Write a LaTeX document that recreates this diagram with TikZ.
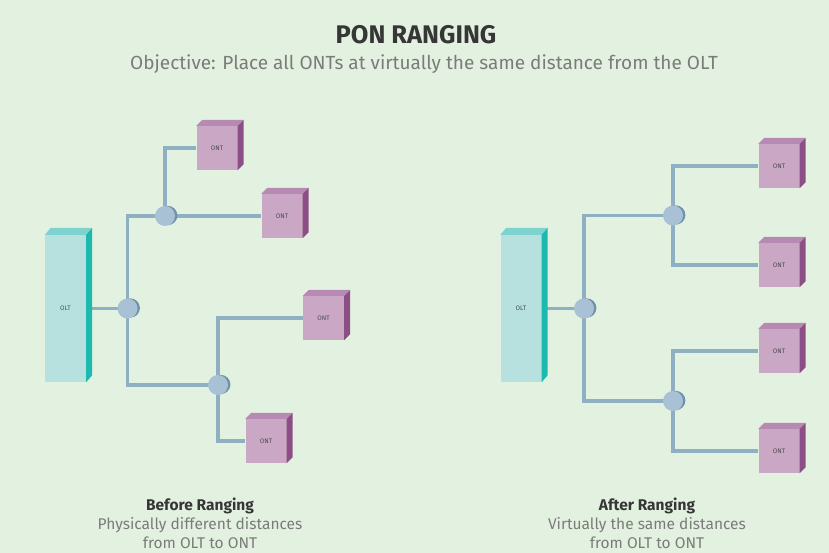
\documentclass[tikz,border=0pt]{standalone}
\usepackage{fontspec}
\setmainfont{Fira Sans}
\usetikzlibrary{calc}
\pgfdeclarelayer{canvas}
\pgfdeclarelayer{background}
\pgfsetlayers{canvas,background,main}

\definecolor{bgcol}{HTML}{E3F2E0}
\definecolor{fibre}{HTML}{8FB0C2}
\definecolor{splitlight}{HTML}{A9C1D4}
\definecolor{splitdark}{HTML}{6F93AA}
\definecolor{ontfront}{HTML}{C9A7C5}
\definecolor{onttop}{HTML}{B68AB2}
\definecolor{ontside}{HTML}{8C4F85}
\definecolor{oltfront}{HTML}{B6E1DF}
\definecolor{olttop}{HTML}{7FD3CE}
\definecolor{oltside}{HTML}{1DB8AE}
\definecolor{titlecol}{HTML}{363636}
\definecolor{subcol}{HTML}{7B7B7B}

\tikzset{
  ont/.style={draw=none, fill=ontfront, minimum width=41pt, minimum height=44pt,
    inner sep=0pt, font=\fontsize{6.5}{7}\selectfont, text=black!70},
  olt/.style={draw=none, fill=oltfront, minimum width=41pt, minimum height=147pt,
    inner sep=0pt, font=\fontsize{6.5}{7}\selectfont, text=black!70},
  splitter/.style={circle, fill=splitlight, minimum size=20pt, inner sep=0pt},
  fibreline/.style={draw=fibre, line width=3.1pt},
  title/.style={font=\fontsize{25.5}{28}\selectfont\bfseries, text=titlecol},
  subtitle/.style={font=\fontsize{19}{22}\selectfont, text=subcol},
  caphead/.style={font=\fontsize{15.5}{19}\selectfont\bfseries, text=titlecol},
  capline/.style={font=\fontsize{15.5}{18.5}\selectfont, text=subcol, align=center}
}

\begin{document}
\begin{tikzpicture}[x=1pt, y=-1pt]
  \begin{pgfonlayer}{canvas}
    \fill[bgcol] (0,0) rectangle (829,553);
  \end{pgfonlayer}
  \useasboundingbox (0,0) rectangle (829,553);

  % headings
  \node[title] (ttl) at (416,35) {PON RANGING};
  \node[subtitle] (sub) at (424,64) {Objective: Place all ONTs at virtually the same distance from the OLT};

  % ---- before ranging ----
  \node[olt] (oltA) at (65.5,308.5) {OLT};
  \node[splitter] (aS1) at (127.5,308.5) {};
  \node[splitter] (aS2) at (165,216) {};
  \node[splitter] (aS3) at (218,385) {};
  \node[ont] (aO1) at (217,148) {ONT};
  \node[ont] (aO2) at (282,216) {ONT};
  \node[ont] (aO3) at (323.5,318) {ONT};
  \node[ont] (aO4) at (266,441) {ONT};

  % ---- after ranging ----
  \node[olt] (oltB) at (521,308.5) {OLT};
  \node[splitter] (bS1) at (584,308.5) {};
  \node[splitter] (bS2) at (673,215.5) {};
  \node[splitter] (bS3) at (673,401) {};
  \node[ont] (bO1) at (779,166) {ONT};
  \node[ont] (bO2) at (779,265) {ONT};
  \node[ont] (bO3) at (779,351) {ONT};
  \node[ont] (bO4) at (779,451) {ONT};

  % 3D faces of the boxes
  \foreach \n in {aO1,aO2,aO3,aO4,bO1,bO2,bO3,bO4}{
    \fill[onttop] (\n.north west) -- ++(6,-6) -- ($(\n.north east)+(6,-6)$) -- (\n.north east) -- cycle;
    \fill[ontside] (\n.north east) -- ++(6,-6) -- ($(\n.south east)+(6,-6)$) -- (\n.south east) -- cycle;
  }
  \foreach \n in {oltA,oltB}{
    \fill[olttop] (\n.north west) -- ++(6,-7) -- ($(\n.north east)+(6,-7)$) -- (\n.north east) -- cycle;
    \fill[oltside] (\n.north east) -- ++(6,-7) -- ($(\n.south east)+(6,-7)$) -- (\n.south east) -- cycle;
  }

  \begin{pgfonlayer}{background}
    % fibre runs
    \draw[fibreline] (oltA.east) -- (aS1.center);
    \draw[fibreline] (aS1.center) |- (aS2.center);
    \draw[fibreline] (aS1.center) |- (aS3.center);
    \draw[fibreline] (aS2.center) |- (aO1.west);
    \draw[fibreline] (aS2.center) -- (aO2.west);
    \draw[fibreline] (aS3.center) |- (aO3.west);
    \draw[fibreline] (aS3.center) |- (aO4.west);

    \draw[fibreline] (oltB.east) -- (bS1.center);
    \draw[fibreline] (bS1.center) |- (bS2.center);
    \draw[fibreline] (bS1.center) |- (bS3.center);
    \draw[fibreline] (bS2.center) |- (bO1.west);
    \draw[fibreline] (bS2.center) |- (bO2.west);
    \draw[fibreline] (bS3.center) |- (bO3.west);
    \draw[fibreline] (bS3.center) |- (bO4.west);

    % shaded rim of the splitters
    \foreach \n in {aS1,aS2,aS3,bS1,bS2,bS3}{
      \fill[splitdark] ($(\n.center)+(2.8,-0.5)$) circle (9.6pt);
    }
  \end{pgfonlayer}

  % captions
  \node[caphead] (capA) at (200,506) {Before Ranging};
  \node[capline, anchor=north] (capA2) at (200,514) {Physically different distances\\from OLT to ONT};
  \node[caphead] (capB) at (647,506) {After Ranging};
  \node[capline, anchor=north] (capB2) at (647,514) {Virtually the same distances\\from OLT to ONT};
\end{tikzpicture}
\end{document}
